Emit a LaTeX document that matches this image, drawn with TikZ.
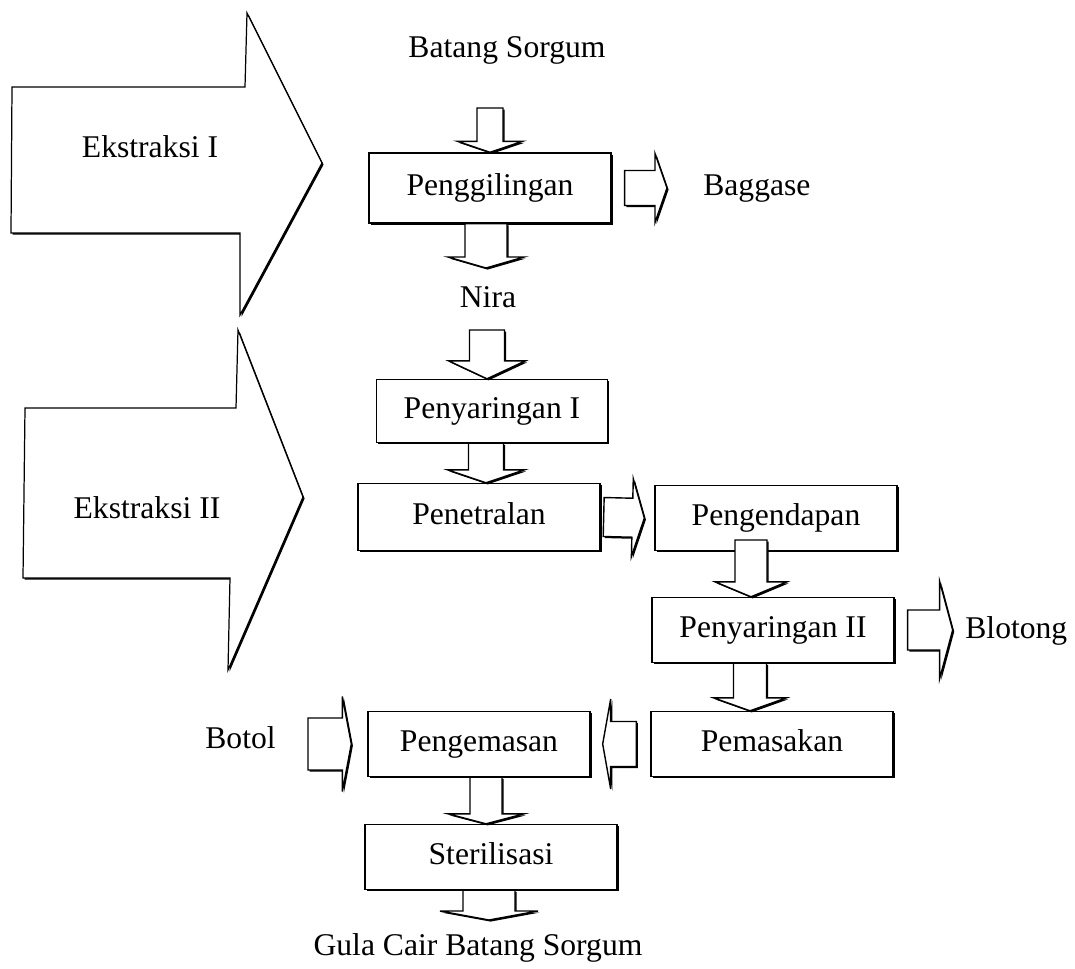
\documentclass[tikz,border=0pt]{standalone}
\usepackage{fontspec}
\setmainfont{Liberation Serif}
\usetikzlibrary{calc,shadows}

% fat block arrow: start, tip, shaft half width, head half width, head length
\newcommand{\fatarrow}[5]{%
	\coordinate (fa-s) at (#1);
	\coordinate (fa-t) at (#2);
	\coordinate (fa-b) at ($(fa-t)!#5!(fa-s)$);
	\draw[blockarrow] ($(fa-s)!#3!90:(fa-t)$) -- ($(fa-b)!#3!90:(fa-t)$)
		-- ($(fa-b)!#4!90:(fa-t)$) -- (fa-t) -- ($(fa-b)!#4!-90:(fa-t)$)
		-- ($(fa-b)!#3!-90:(fa-t)$) -- ($(fa-s)!#3!-90:(fa-t)$) -- cycle;
}

\begin{document}
\begin{tikzpicture}[x=0.02cm, y=-0.02cm,
		every node/.style={font=\fontsize{18pt}{22pt}\selectfont},
		edgeshadow/.style={drop shadow={shadow xshift=0.9pt, shadow yshift=-0.9pt, opacity=1, fill=black}},
		stage/.style={draw, fill=white, line width=0.8pt, edgeshadow, minimum width=4.84cm, minimum height=1.3cm, text height=12.5pt, text depth=4pt},
		blockarrow/.style={draw, fill=white, line width=0.8pt, edgeshadow},
		bigarrow/.style={draw, fill=white, line width=0.7pt, edgeshadow},
		lbl/.style={anchor=base, inner sep=0pt}]
	\useasboundingbox (0,0) rectangle (1075,968);
	
	% the two extraction stages
	\draw[bigarrow] (12,87) -- (245,87) -- (247,13) -- (322,163) -- (240,315) -- (240,233) -- (11,233) -- cycle;
	\draw[bigarrow] (25,408) -- (236,408) -- (238,330) -- (303,497) -- (228,670) -- (230,578) -- (23,578) -- cycle;
	\node[lbl] (eks1) at (150,157) {Ekstraksi I};
	\node[lbl] (eks2) at (147,518) {Ekstraksi II};
	
	\node[stage, minimum height=1.4cm] (pengg) at (490,188) {Penggilingan};
	\node[stage, minimum width=4.62cm, minimum height=1.26cm] (penyI) at (492,411) {Penyaringan I};
	\node[stage, minimum height=1.34cm] (penet) at (479,517) {Penetralan};
	\node[stage] (pengend) at (776,518) {Pengendapan};
	\node[stage] (penyII) at (773,630) {Penyaringan II};
	\node[stage] (pemas) at (772,744) {Pemasakan};
	\node[stage, minimum width=4.44cm] (pengem) at (479,744) {Pengemasan};
	\node[stage, minimum width=5.04cm] (steril) at (491,857) {Sterilisasi};
	
	\node[lbl] (batang) at (507,57) {Batang Sorgum};
	\node[lbl, anchor=base west] (baggase) at (703,195) {Baggase};
	\node[lbl] (nira) at (488,307) {Nira};
	\node[lbl, anchor=base west] (blotong) at (965,638) {Blotong};
	\node[lbl, anchor=base west] (botol) at (205,748) {Botol};
	\node[lbl] (gula) at (478,955) {Gula Cair Batang Sorgum};
	
	\coordinate (batangout) at (490,108);
	\coordinate (nirain) at (486,268);
	\coordinate (niraout) at (487,330);
	\coordinate (col) at (486,0);
	\coordinate (colR) at (750,0);
	\coordinate (pgout) at (751,540);
	\coordinate (baggin) at (667,188);
	\coordinate (botolout) at (308,744);
	\coordinate (gulain) at (489,920);
	
	\fatarrow{batangout}{pengg.north}{0.26cm}{0.65cm}{0.22cm}
	\fatarrow{pengg.south -| nirain}{nirain}{0.42cm}{0.76cm}{0.22cm}
	\fatarrow{niraout}{penyI.north -| niraout}{0.35cm}{0.77cm}{0.36cm}
	\fatarrow{penyI.south -| col}{penet.north -| col}{0.35cm}{0.77cm}{0.26cm}
	\fatarrow{pgout}{penyII.north -| pgout}{0.32cm}{0.72cm}{0.3cm}
	\fatarrow{penyII.south -| colR}{pemas.north -| colR}{0.33cm}{0.73cm}{0.26cm}
	\fatarrow{pengem.south -| col}{steril.north -| col}{0.32cm}{0.76cm}{0.2cm}
	\fatarrow{steril.south -| gulain}{gulain}{0.52cm}{0.98cm}{0.18cm}
	\fatarrow{[xshift=0.26cm]pengg.east}{baggin}{0.35cm}{0.69cm}{0.24cm}
	\fatarrow{[xshift=0.06cm]penet.east}{[xshift=-0.2cm]pengend.west}{0.39cm}{0.78cm}{0.24cm}
	\fatarrow{[xshift=0.26cm]penyII.east}{[xshift=1.16cm]penyII.east}{0.4cm}{0.97cm}{0.26cm}
	\fatarrow{[xshift=-0.28cm]pemas.west}{[xshift=0.24cm]pengem.east}{0.45cm}{0.9cm}{0.16cm}
	\fatarrow{botolout}{[xshift=-0.32cm]pengem.west}{0.52cm}{0.95cm}{0.18cm}
\end{tikzpicture}
\end{document}
